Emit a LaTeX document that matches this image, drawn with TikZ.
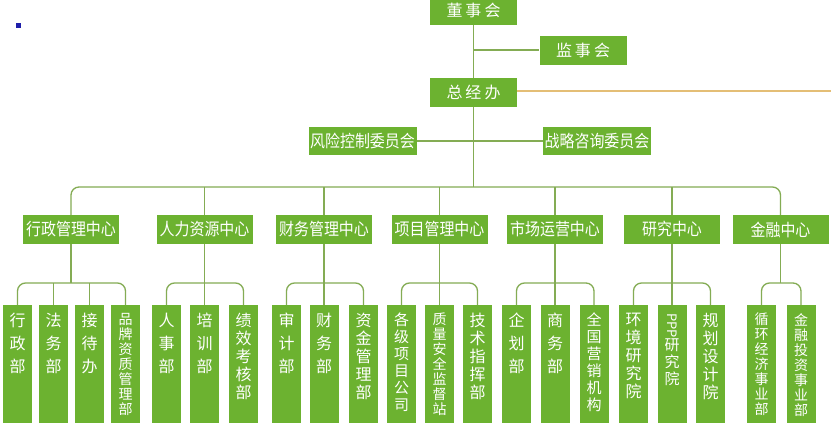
\documentclass[tikz,border=0pt]{standalone}
\usepackage{fontspec}
\setmainfont{Noto Sans CJK SC}
\newfontfamily\condf[FakeStretch=0.88]{Noto Sans CJK SC}
\definecolor{boxg}{RGB}{108,178,48}
\definecolor{lineg}{RGB}{132,172,84}
\definecolor{orl}{RGB}{228,190,118}
\definecolor{dotb}{RGB}{30,30,170}
\newcommand\vcol[3]{\parbox[c][118pt][t]{29pt}{\vspace*{8pt}\centering\fontsize{#1}{#2}\selectfont #3\par}}
\tikzset{
  gbox/.style={fill=boxg, text=white, inner sep=0pt},
  topbox/.style={gbox, minimum width=87pt, minimum height=29pt, font=\fontsize{16}{16}\selectfont},
  cbox/.style={gbox, minimum width=108pt, minimum height=28pt, font=\condf\fontsize{17}{17}\selectfont},
  midbox/.style={gbox, minimum width=96pt, minimum height=29pt, font=\condf\fontsize{17}{17}\selectfont},
  subbox/.style={gbox, minimum width=29pt, minimum height=118pt, anchor=north},
  conn/.style={draw=lineg, line width=1.3pt},
  bus/.style={conn, rounded corners=8pt},
}
\begin{document}
\begin{tikzpicture}[x=1pt,y=-1pt]
\useasboundingbox (0,0) rectangle (831,432);
\fill[white] (0,0) rectangle (831,432);
\fill[dotb] (16,23) rectangle (21,28);
% top level
\node[topbox] (dsh) at (473.5,10.5) {董\hspace{3pt}事\hspace{3pt}会};
\node[topbox] (jsh) at (583,50) {监\hspace{3pt}事\hspace{3pt}会};
\node[topbox] (zjb) at (473.5,92.5) {总\hspace{3pt}经\hspace{3pt}办};
\node[cbox] (fx) at (362.5,141) {风险控制委员会};
\node[cbox] (zl) at (597,141) {战略咨询委员会};
\coordinate (oend) at (831,91);
\coordinate (busy) at (0,187);
\coordinate (suby) at (0,283);
% centers
\node[midbox] (c1) at (71,229.5) {行政管理中心};
\node[midbox] (c2) at (204.5,229.5) {人力资源中心};
\node[midbox] (c3) at (324,229.5) {财务管理中心};
\node[midbox] (c4) at (439.5,229.5) {项目管理中心};
\node[midbox] (c5) at (555,229.5) {市场运营中心};
\node[midbox] (c6) at (672,229.5) {研究中心};
\node[midbox] (c7) at (780.5,229.5) {金融中心};
% departments
\node[subbox] (b11) at (17.5,305) {\vcol{16}{23}{行\\政\\部}};
\node[subbox] (b12) at (53.5,305) {\vcol{16}{23}{法\\务\\部}};
\node[subbox] (b13) at (89.5,305) {\vcol{16}{23}{接\\待\\办}};
\node[subbox] (b14) at (125.5,305) {\vcol{14}{15}{品\\牌\\资\\质\\管\\理\\部}};
\node[subbox] (b21) at (166.5,305) {\vcol{16}{23}{人\\事\\部}};
\node[subbox] (b22) at (204.5,305) {\vcol{16}{23}{培\\训\\部}};
\node[subbox] (b23) at (243.5,305) {\vcol{16}{18}{绩\\效\\考\\核\\部}};
\node[subbox] (b31) at (286.5,305) {\vcol{16}{23}{审\\计\\部}};
\node[subbox] (b32) at (324,305) {\vcol{16}{23}{财\\务\\部}};
\node[subbox] (b33) at (363.5,305) {\vcol{16}{18}{资\\金\\管\\理\\部}};
\node[subbox] (b41) at (401.5,305) {\vcol{15}{17}{各\\级\\项\\目\\公\\司}};
\node[subbox] (b42) at (439.5,305) {\vcol{14}{15}{质\\量\\安\\全\\监\\督\\站}};
\node[subbox] (b43) at (477.5,305) {\vcol{16}{18}{技\\术\\指\\挥\\部}};
\node[subbox] (b51) at (516.5,305) {\vcol{16}{23}{企\\划\\部}};
\node[subbox] (b52) at (555,305) {\vcol{16}{23}{商\\务\\部}};
\node[subbox] (b53) at (594,305) {\vcol{15}{17}{全\\国\\营\\销\\机\\构}};
\node[subbox] (b61) at (633.5,305) {\vcol{16}{18}{环\\境\\研\\究\\院}};
\node[subbox] (b62) at (672,305) {\vcol{15}{17}{\rotatebox[origin=c]{-90}{\fontsize{13}{13}\selectfont PPP}\\研\\究\\院}};
\node[subbox] (b63) at (710.5,305) {\vcol{16}{18}{规\\划\\设\\计\\院}};
\node[subbox] (b71) at (761.5,305) {\vcol{14}{15}{循\\环\\经\\济\\事\\业\\部}};
\node[subbox] (b72) at (801,305) {\vcol{14}{15}{金\\融\\投\\资\\事\\业\\部}};
% top connectors
\draw[conn] (dsh.south) -- (zjb.north);
\draw[conn] (dsh.south |- jsh.west) -- (jsh.west);
\draw[draw=orl, line width=1.5pt] (zjb.east |- oend) -- (oend);
\draw[conn] (fx.east) -- (zl.west);
\draw[conn] (zjb.south) -- (zjb.south |- busy);
% main bus
\draw[bus] (c1.north) -- (c1.north |- busy) -| (c7.north);
\foreach \c in {c2,c3,c4,c5,c6} \draw[conn] (\c.north) -- (\c.north |- busy);
% sub buses
\foreach \c/\a/\z in {c1/b11/b14, c2/b21/b23, c3/b31/b33, c4/b41/b43, c5/b51/b53, c6/b61/b63, c7/b71/b72} {
  \draw[bus] (\a.north) -- (\a.north |- suby) -| (\z.north);
  \draw[conn] (\c.south) -- (\c.south |- suby);
}
\foreach \b in {b12,b13,b22,b32,b42,b52,b62} \draw[conn] (\b.north) -- (\b.north |- suby);
\end{tikzpicture}
\end{document}
